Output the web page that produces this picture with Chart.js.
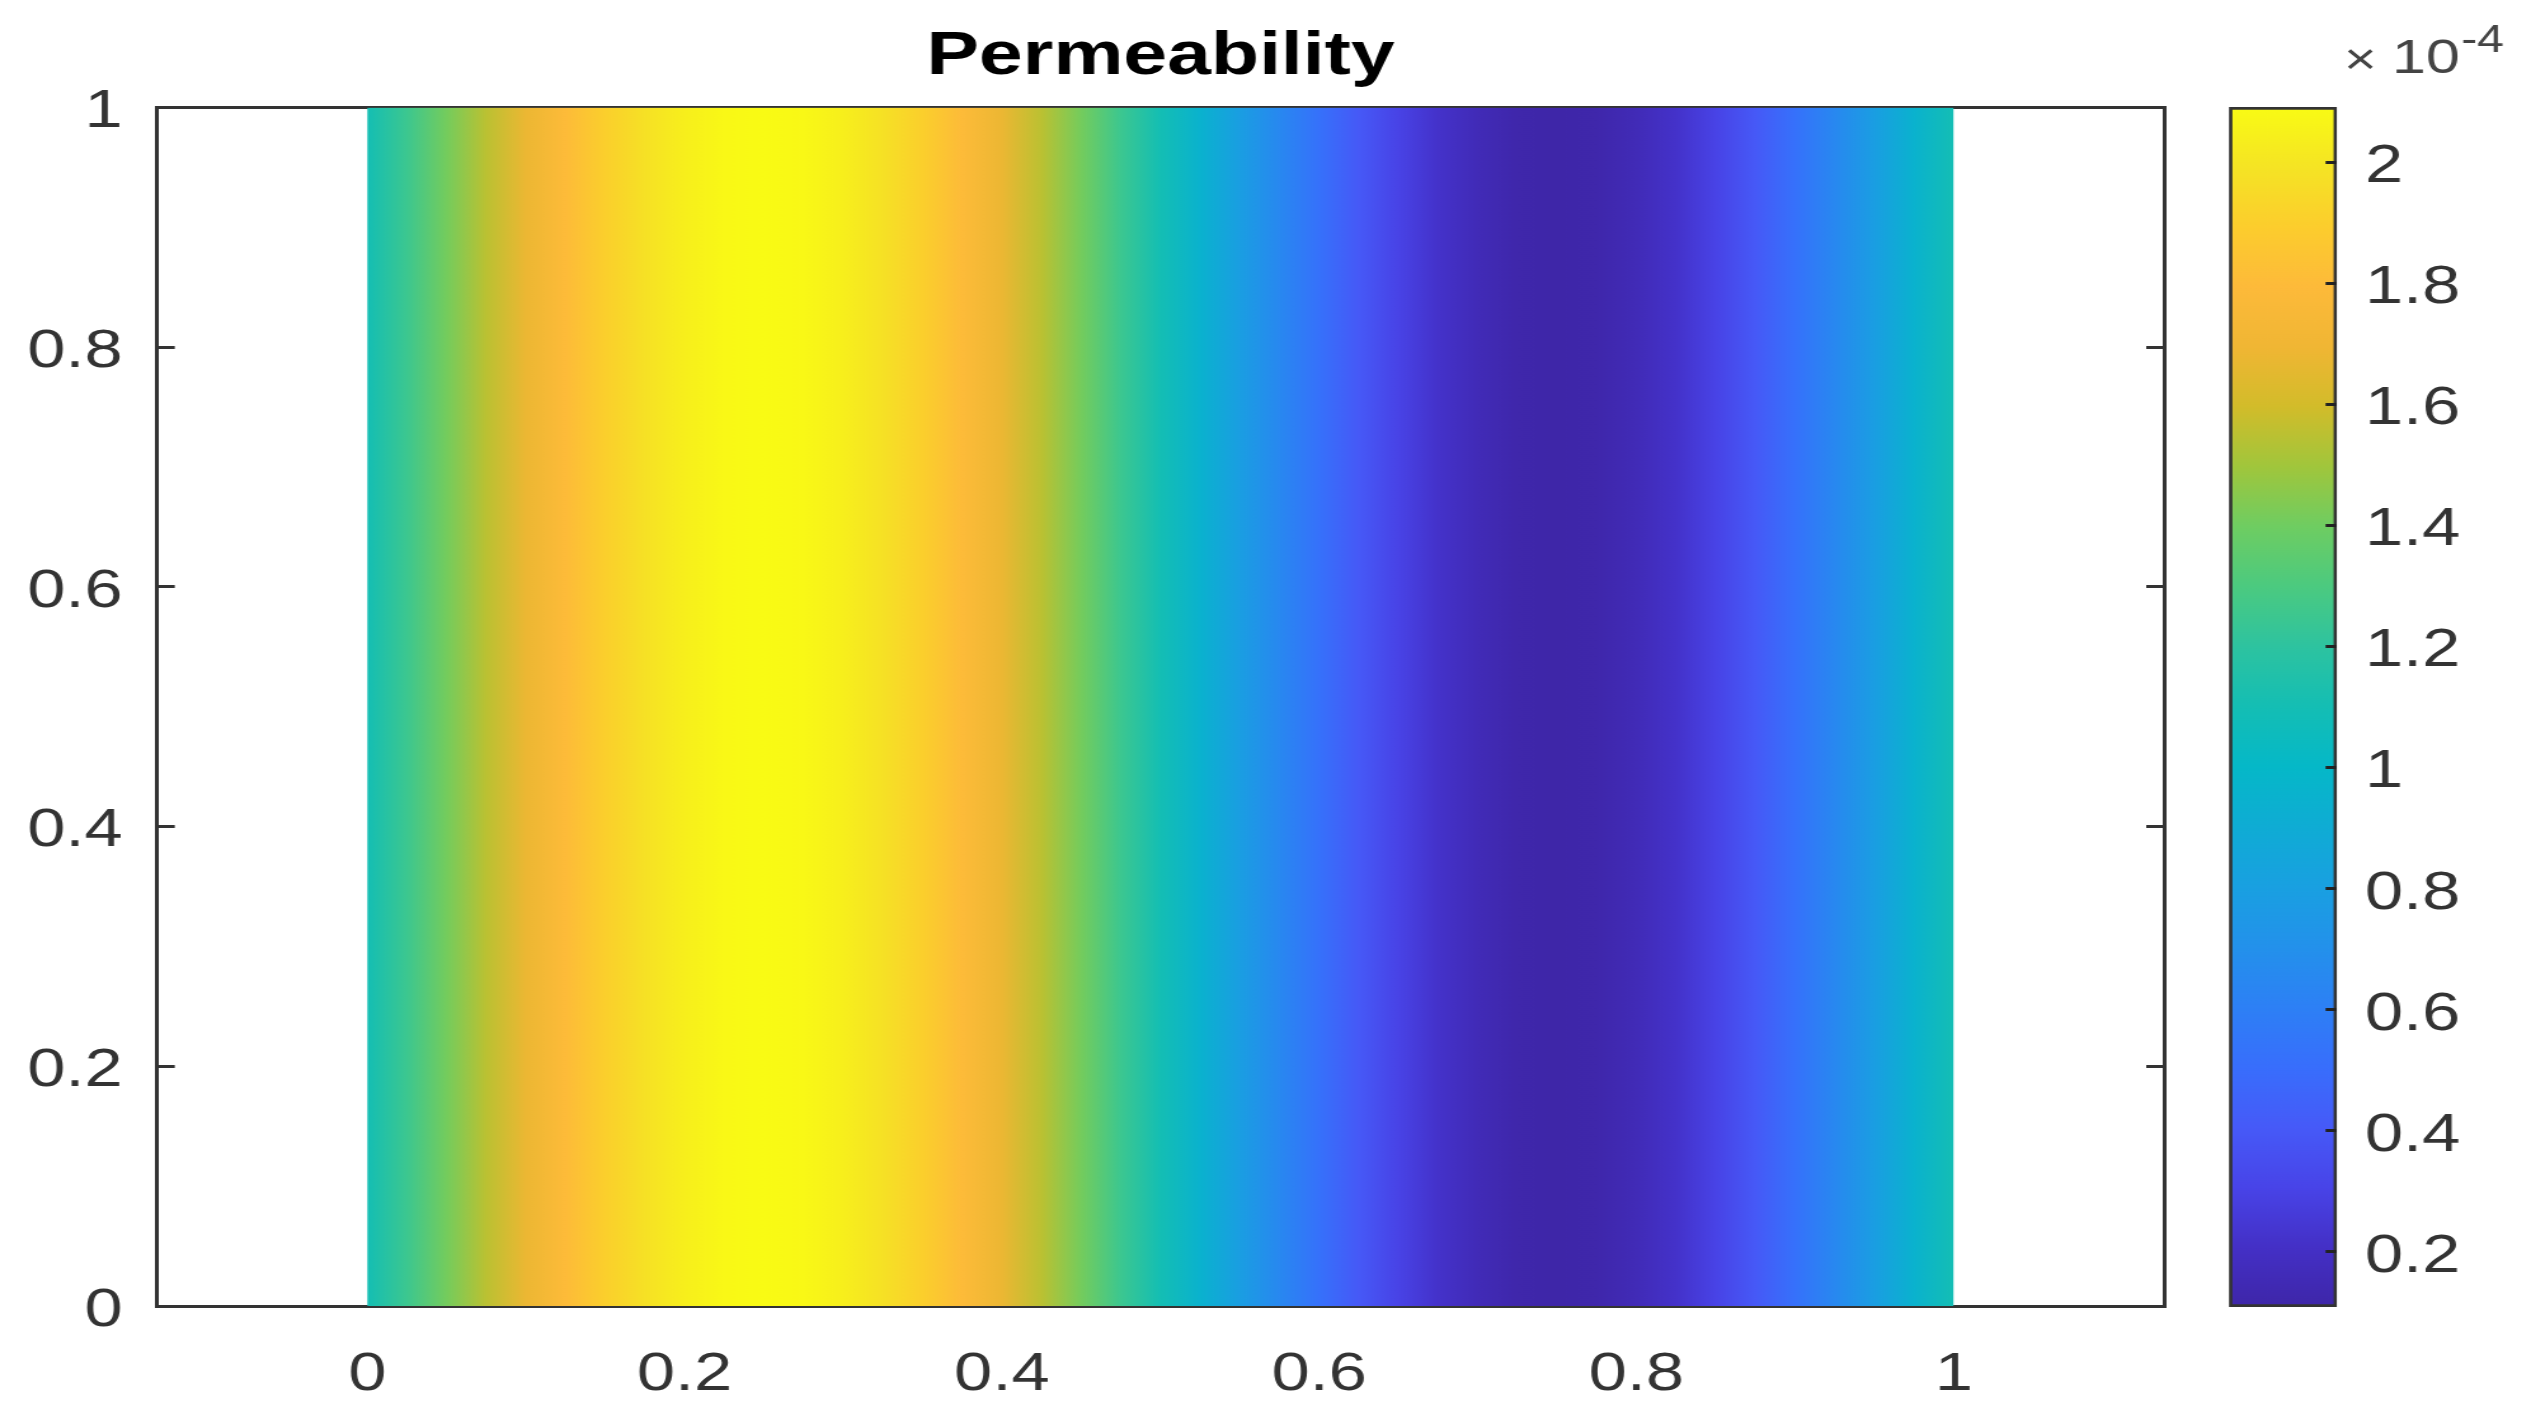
<!DOCTYPE html>
<html>
<head>
<meta charset="utf-8">
<title>Permeability</title>
<script src="https://cdn.jsdelivr.net/npm/chart.js@4.4.1/dist/chart.umd.min.js"></script>
<style>
  html, body { margin: 0; padding: 0; background: #fff; overflow: hidden; }
  #wrap { position: relative; width: 2531px; height: 1410px; }
  #wrap canvas { position: absolute; left: 0; top: 0; }
</style>
</head>
<body>
<div id="wrap">
  <canvas id="field"></canvas>
  <canvas id="colorbar"></canvas>
</div>
<script>
const xPos = [0, 0.025, 0.05, 0.075, 0.1, 0.125, 0.15, 0.175, 0.2, 0.225,
  0.25, 0.275, 0.3, 0.325, 0.35, 0.375, 0.4, 0.425, 0.45, 0.475,
  0.5, 0.525, 0.55, 0.575, 0.6, 0.625, 0.65, 0.675, 0.7, 0.725,
  0.75, 0.775, 0.8, 0.825, 0.85, 0.875, 0.9, 0.925, 0.95, 0.975, 1];
// permeability, in units of 1e-4 (constant along y)
const permeability = [1.10, 1.25, 1.41, 1.55, 1.68, 1.80, 1.90, 1.98, 2.04, 2.08,
  2.09, 2.08, 2.04, 1.98, 1.90, 1.80, 1.68, 1.55, 1.41, 1.25,
  1.10, 0.95, 0.79, 0.65, 0.52, 0.40, 0.30, 0.22, 0.16, 0.12,
  0.11, 0.12, 0.16, 0.22, 0.30, 0.40, 0.52, 0.65, 0.79, 0.95, 1.10];

const xTicks = [0, 0.2, 0.4, 0.6, 0.8, 1];
const yTicks = [0, 0.2, 0.4, 0.6, 0.8, 1];
const cbTicks = [0.2, 0.4, 0.6, 0.8, 1, 1.2, 1.4, 1.6, 1.8, 2];
const xRange = [-0.1325, 1.1325];
const cRange = [0.109, 2.091];

// parula-like colormap: [t, r, g, b]
const cmapStops = [
  [0.00, 62, 38, 168], [0.05, 68, 48, 198], [0.10, 72, 68, 232], [0.15, 70, 90, 248],
  [0.20, 56, 110, 252], [0.25, 45, 128, 245], [0.30, 35, 145, 235], [0.35, 25, 160, 225],
  [0.40, 15, 172, 212], [0.45, 5, 184, 200], [0.50, 20, 190, 180], [0.55, 45, 195, 160],
  [0.60, 75, 202, 128], [0.65, 110, 205, 98], [0.70, 160, 198, 60], [0.75, 210, 188, 42],
  [0.80, 240, 182, 52], [0.85, 253, 186, 58], [0.90, 252, 205, 45], [0.95, 245, 228, 36],
  [1.00, 249, 251, 20]
];

// the reference is stretched sideways, so the canvases are too
const W = 1993, H = 1410;
const SX = 2531 / W;
const px = (v) => v / SX;
const FONT = "'Liberation Sans', Arial, Helvetica, sans-serif";
const AXIS = "#333333";

function parula(t) {
  t = Math.min(1, Math.max(0, t));
  for (let i = 1; i < cmapStops.length; i++) {
    const a = cmapStops[i - 1], b = cmapStops[i];
    if (t <= b[0]) {
      const f = (t - a[0]) / (b[0] - a[0]);
      const c = [1, 2, 3].map((k) => Math.round(a[k] + (b[k] - a[k]) * f));
      return `rgb(${c[0]},${c[1]},${c[2]})`;
    }
  }
  return "rgb(249,251,20)";
}

const fmt = (v) => String(Math.round(v * 10) / 10);

function surfaceFill(context) {
  const { ctx, chartArea, scales } = context.chart;
  if (!chartArea) return null;
  const x0 = scales.x.getPixelForValue(xPos[0]);
  const x1 = scales.x.getPixelForValue(xPos[xPos.length - 1]);
  const g = ctx.createLinearGradient(x0, 0, x1, 0);
  xPos.forEach((x, i) => {
    const stop = (scales.x.getPixelForValue(x) - x0) / (x1 - x0);
    g.addColorStop(stop, parula((permeability[i] - cRange[0]) / (cRange[1] - cRange[0])));
  });
  return g;
}

function colorbarFill(context) {
  const { ctx, chartArea, scales } = context.chart;
  if (!chartArea) return null;
  const yb = scales.y.getPixelForValue(cRange[0]);
  const yt = scales.y.getPixelForValue(cRange[1]);
  const g = ctx.createLinearGradient(0, yb, 0, yt);
  cmapStops.forEach((s) => g.addColorStop(s[0], parula(s[0])));
  return g;
}

function prepCanvas(id) {
  const c = document.getElementById(id);
  c.width = W;
  c.height = H;
  c.style.width = "2531px";
  c.style.height = H + "px";
  return c;
}

const tickFont = { family: FONT, size: 54 };

// main field
new Chart(prepCanvas("field"), {
  type: "line",
  data: {
    datasets: [{
      data: xPos.map((x) => ({ x: x, y: 1 })),
      fill: "start",
      backgroundColor: surfaceFill,
      borderColor: "rgba(0,0,0,0)",
      borderWidth: 0,
      pointRadius: 0,
      tension: 0
    }]
  },
  options: {
    responsive: false,
    devicePixelRatio: 1,
    animation: false,
    events: [],
    layout: { padding: { left: 0, top: 0, bottom: 0, right: W - px(2164) } },
    plugins: {
      legend: { display: false },
      tooltip: { enabled: false },
      title: {
        display: true,
        text: "Permeability",
        fullSize: false,
        color: "#000",
        font: { family: FONT, size: 62, weight: "bold" },
        padding: { top: 20, bottom: 13 }
      }
    },
    scales: {
      x: {
        type: "linear",
        position: "bottom",
        min: xRange[0],
        max: xRange[1],
        afterBuildTicks: (s) => { s.ticks = xTicks.map((v) => ({ value: v })); },
        afterFit: (s) => { s.height = H - 1306; },
        ticks: { callback: fmt, font: tickFont, color: AXIS, padding: 37, maxRotation: 0, autoSkip: false },
        grid: { display: false, drawTicks: false },
        border: { display: true, color: AXIS, width: 3 }
      },
      xTop: {
        type: "linear",
        position: "top",
        min: xRange[0],
        max: xRange[1],
        afterFit: (s) => { s.height = 0; },
        ticks: { display: false },
        grid: { display: false, drawTicks: false },
        border: { display: true, color: AXIS, width: 3 }
      },
      y: {
        type: "linear",
        position: "left",
        min: 0,
        max: 1,
        afterBuildTicks: (s) => { s.ticks = yTicks.map((v) => ({ value: v })); },
        afterFit: (s) => { s.width = px(157); },
        ticks: { callback: fmt, font: tickFont, color: AXIS, padding: 41, labelOffset: 5 },
        grid: { drawOnChartArea: false, drawTicks: true, tickLength: -14, tickColor: AXIS, tickWidth: 3 },
        border: { display: true, color: AXIS, width: 3 }
      },
      yRight: {
        type: "linear",
        position: "right",
        min: 0,
        max: 1,
        afterBuildTicks: (s) => { s.ticks = yTicks.map((v) => ({ value: v })); },
        afterFit: (s) => { s.width = 0; },
        ticks: { display: false },
        grid: { drawOnChartArea: false, drawTicks: true, tickLength: -14, tickColor: AXIS, tickWidth: 3 },
        border: { display: true, color: AXIS, width: 3 }
      }
    }
  }
});

// "x10^-4" over the colorbar
const exponentLabel = {
  id: "exponentLabel",
  afterDraw(chart) {
    const ctx = chart.ctx;
    ctx.save();
    ctx.fillStyle = "#444";
    ctx.textAlign = "left";
    ctx.textBaseline = "alphabetic";
    ctx.font = `44px ${FONT}`;
    ctx.fillText("\u00d7", px(2344), 74);
    ctx.font = `48px ${FONT}`;
    ctx.fillText("10", px(2392), 73);
    const w = ctx.measureText("10").width;
    ctx.font = `38px ${FONT}`;
    ctx.fillText("-4", px(2392) + w + 1, 52);
    ctx.restore();
  }
};

// colorbar
new Chart(prepCanvas("colorbar"), {
  type: "bar",
  data: {
    labels: [""],
    datasets: [{
      data: [cRange],
      backgroundColor: colorbarFill,
      borderColor: AXIS,
      borderWidth: 3,
      borderSkipped: false,
      categoryPercentage: 1,
      barPercentage: 1
    }]
  },
  options: {
    responsive: false,
    devicePixelRatio: 1,
    animation: false,
    events: [],
    layout: { padding: { left: px(2229), top: 107, bottom: H - 1307, right: 0 } },
    plugins: { legend: { display: false }, tooltip: { enabled: false } },
    scales: {
      x: { display: false },
      y: {
        type: "linear",
        position: "right",
        min: cRange[0],
        max: cRange[1],
        afterBuildTicks: (s) => { s.ticks = cbTicks.map((v) => ({ value: v })); },
        afterFit: (s) => { s.width = W - px(2337); },
        ticks: { callback: fmt, font: tickFont, color: AXIS, padding: 31, labelOffset: 5 },
        grid: { drawOnChartArea: false, drawTicks: true, tickLength: -9, tickColor: "#222", tickWidth: 3, z: 1 },
        border: { display: false }
      }
    }
  },
  plugins: [exponentLabel]
});
</script>
</body>
</html>
